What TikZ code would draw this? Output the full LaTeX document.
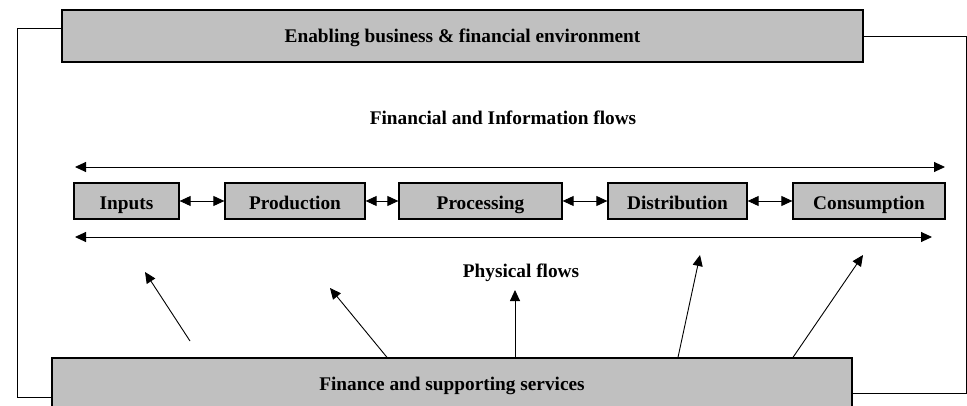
\documentclass[tikz,border=0pt]{standalone}
\usepackage{fontspec}
\setmainfont{Liberation Serif}
\usetikzlibrary{arrows.meta}
\definecolor{boxgray}{HTML}{C0C0C0}
\begin{document}
\begin{tikzpicture}[x=1pt,y=-1pt,
  gbox/.style={draw=black,line width=1.3pt,fill=boxgray,inner sep=0pt,
    font=\fontsize{19.3}{22}\selectfont\bfseries},
  chain/.style={gbox,minimum height=36pt,text height=22pt,text depth=4pt},
  lbl/.style={font=\fontsize{19.3}{22}\selectfont\bfseries,inner sep=0pt},
  conn/.style={line width=0.9pt},
  arr/.style={line width=0.9pt,-{Triangle[length=11pt,width=10pt]}},
  darr/.style={line width=0.9pt,{Triangle[length=11pt,width=10pt]}-{Triangle[length=11pt,width=10pt]}}
]
\useasboundingbox (0,0) rectangle (967,406);
\fill[white] (0,0) rectangle (967,406);
% top and bottom boxes
\node[gbox,minimum width=801pt,minimum height=52pt,text height=20pt,text depth=6pt] (top) at (462.5,36) {Enabling business \& financial environment};
\begin{scope}
\clip (0,0) rectangle (967,406);
\node[gbox,minimum width=800pt,minimum height=52pt,text height=19pt,text depth=7pt] (bot) at (452,384) {Finance and supporting services};
\end{scope}
% frame lines
\draw[conn] ([yshift=8pt]top.west) -| (17,397) -- ([yshift=-13pt]bot.west);
\draw[conn] (top.east) -| (966,393) -- ([yshift=-9pt]bot.east);
% labels
\node[lbl] (fif) at (503,118) {Financial and Information flows};
\node[lbl] (pf) at (521,273) {Physical flows};
% chain boxes
\node[chain,minimum width=105pt] (inp) at (126.5,201) {Inputs};
\node[chain,minimum width=140pt] (prod) at (295,201) {Production};
\node[chain,minimum width=163pt] (proc) at (480.5,201) {Processing};
\node[chain,minimum width=139pt] (dist) at (677.5,201) {Distribution};
\node[chain,minimum width=152pt] (cons) at (869,201) {Consumption};
\draw[darr] (inp) -- (prod);
\draw[darr] (prod) -- (proc);
\draw[darr] (proc) -- (dist);
\draw[darr] (dist) -- (cons);
% long flow arrows
\coordinate (fl1) at (75,167);
\coordinate (fr1) at (945,167);
\coordinate (fl2) at (75,237);
\coordinate (fr2) at (932,237);
\draw[darr] (fl1) -- (fr1);
\draw[darr] (fl2) -- (fr2);
% diagonal arrows
\coordinate (s1) at (190,341);
\coordinate (t1) at (145,272);
\coordinate (t2) at (330,288);
\coordinate (t3) at (515,290);
\coordinate (t4) at (700,255);
\coordinate (t5) at (863,255);
\draw[arr] (s1) -- (t1);
\draw[arr] (bot.north -| 387,0) -- (t2);
\draw[arr] (bot.north -| 515,0) -- (t3);
\draw[arr] (bot.north -| 678,0) -- (t4);
\draw[arr] (bot.north -| 793,0) -- (t5);
\end{tikzpicture}
\end{document}
